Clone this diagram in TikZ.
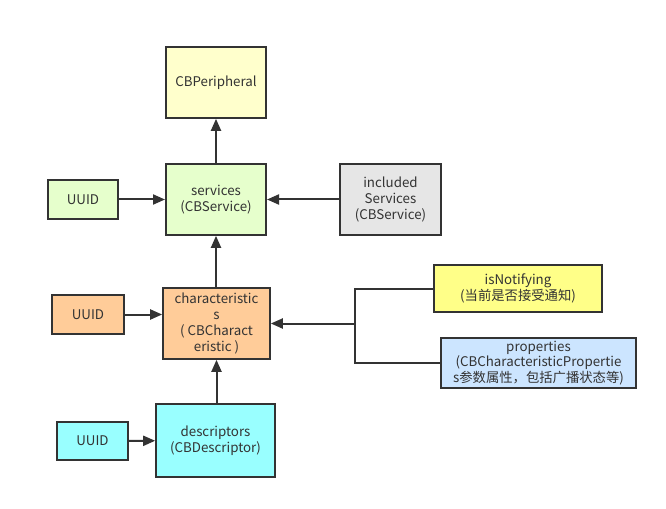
\documentclass[tikz,border=0pt]{standalone}
\usepackage{fontspec}
\setmainfont{Noto Sans CJK SC}
\usetikzlibrary{arrows.meta}
\definecolor{edge}{HTML}{333333}
\definecolor{cperi}{HTML}{FFFFCC}
\definecolor{cserv}{HTML}{E6FFCC}
\definecolor{cincl}{HTML}{E6E6E6}
\definecolor{cchar}{HTML}{FFCC99}
\definecolor{cdesc}{HTML}{99FFFF}
\definecolor{cnoti}{HTML}{FFFF88}
\definecolor{cprop}{HTML}{CCE5FF}
\tikzset{
  box/.style={draw=edge, line width=1.5pt, rectangle, inner sep=0pt, align=center,
    font=\fontsize{10pt}{11.8pt}\selectfont, text=edge},
  conn/.style={draw=edge, line width=1.5pt},
  arr/.style={conn, -{Triangle[length=9pt,width=7.5pt]}}
}
\begin{document}
\begin{tikzpicture}[x=0.75pt,y=-0.75pt]
\useasboundingbox (0,0) rectangle (666,509);
\node[box, fill=cperi, minimum width=75pt, minimum height=53pt] (peri) at (216,82.5) {CBPeripheral};
\node[box, fill=cserv, minimum width=75pt, minimum height=53pt] (serv) at (216,199.5) {services\\(CBService)};
\node[box, fill=cserv, minimum width=52.5pt, minimum height=29pt] (u1) at (83,199.5) {UUID};
\node[box, fill=cincl, minimum width=75.5pt, minimum height=53pt] (incl) at (390.5,199.5) {included\\Services\\(CBService)};
\node[box, fill=cchar, minimum width=80pt, minimum height=53pt] (char) at (216.5,323.5) {characteristic\\s\\( CBCharact\\eristic )};
\node[box, fill=cchar, minimum width=54pt, minimum height=29pt] (u2) at (88,314.5) {UUID};
\node[box, fill=cnoti, minimum width=126pt, minimum height=35pt] (noti) at (518,288.5) {isNotifying\\(当前是否接受通知)};
\node[box, fill=cprop, minimum width=146pt, minimum height=37.5pt] (prop) at (538.5,363) {properties\\(CBCharacteristicPropertie\\s参数属性，包括广播状态等)};
\node[box, fill=cdesc, minimum width=89pt, minimum height=54.5pt] (desc) at (215.5,440.5) {descriptors\\(CBDescriptor)};
\node[box, fill=cdesc, minimum width=53pt, minimum height=28.5pt] (u3) at (92.5,441) {UUID};
\coordinate (j) at (355,323.5);
\draw[arr] (serv) -- (peri);
\draw[arr] (u1) -- (serv);
\draw[arr] (incl) -- (serv);
\draw[arr] (char.north -| serv) -- (serv.south);
\draw[arr] (u2.east) -- (u2.east -| char.west);
\draw[arr] (desc.north -| char) -- (char.south);
\draw[arr] (u3) -- (desc);
\draw[conn] (noti.west) -| (j);
\draw[conn] (prop.west) -| (j);
\draw[arr] (j) -- (char.east);
\end{tikzpicture}
\end{document}
